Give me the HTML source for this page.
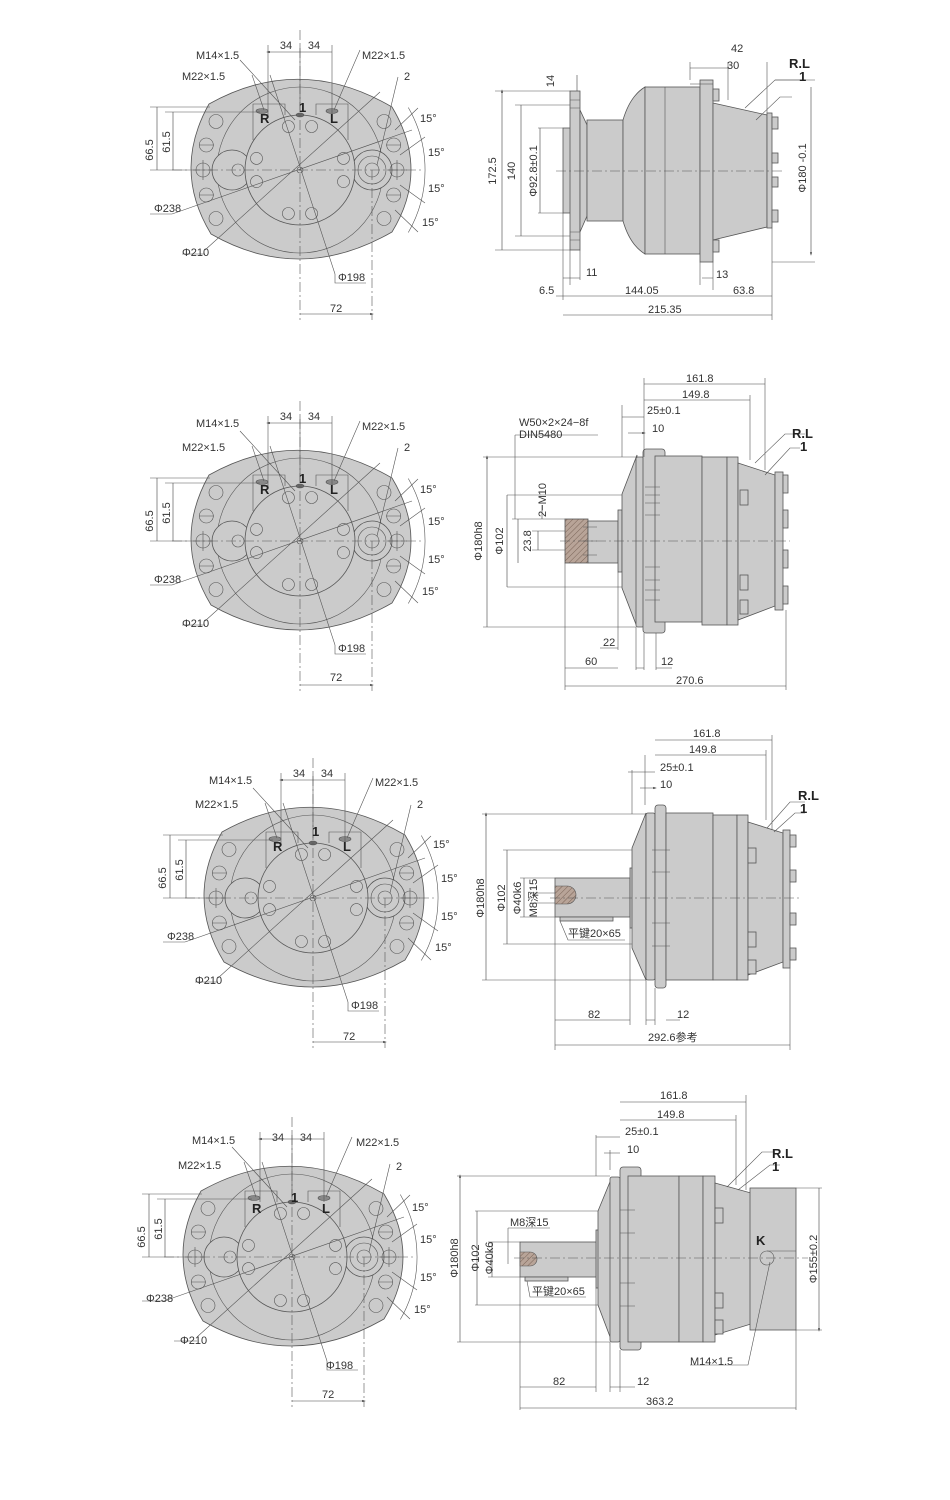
<!DOCTYPE html>
<html><head><meta charset="utf-8"><style>
html,body{margin:0;padding:0;background:#fff}
svg{display:block}
text{font-family:"Liberation Sans","Noto Sans CJK SC",sans-serif;font-size:11px;fill:#333}
.b{font-weight:bold;font-size:13px;fill:#222}
.g{fill:#cbcbcb;stroke:#555;stroke-width:0.8}
.l{stroke:#555;stroke-width:0.6;fill:none}
.c{stroke:#555;stroke-width:0.6;fill:none;stroke-dasharray:10 3 2 3}
.d{stroke:#444;stroke-width:0.6;fill:none;marker-start:url(#a);marker-end:url(#a)}
</style></head><body>
<svg width="950" height="1500" viewBox="0 0 950 1500" xmlns="http://www.w3.org/2000/svg">
<defs>
<marker id="a" viewBox="0 0 10 10" refX="5" refY="5" markerWidth="6" markerHeight="6" orient="auto-start-reverse"><path d="M0,2 L10,5 L0,8 Z" fill="#444"/></marker>
<pattern id="h" width="4" height="4" patternUnits="userSpaceOnUse" patternTransform="rotate(45)"><rect width="4" height="4" fill="#b8a498"/><line x1="0" y1="0" x2="0" y2="4" stroke="#7a6458" stroke-width="1"/></pattern>
<g id="fv">
<path class="g" d="M-91,-66 Q0,-117 92,-63 Q130,0 92,62 Q0,115 -89,64 Q-128,0 -91,-66Z"/>
<circle class="l" r="83"/>
<circle class="g" cx="72" cy="0" r="20"/><circle class="g" cx="-68" cy="0" r="20"/>
<circle class="g" r="55"/>
<circle class="l" cx="72" cy="0" r="14"/><circle class="l" cx="72" cy="0" r="7"/><circle class="l" cx="-62" cy="0" r="6"/>
<g class="l">
<circle cx="11.6" cy="-43.5" r="6"/><circle cx="-11.6" cy="-43.5" r="6"/><circle cx="11.6" cy="43.5" r="6"/><circle cx="-11.6" cy="43.5" r="6"/>
<circle cx="43.5" cy="11.6" r="6"/><circle cx="43.5" cy="-11.6" r="6"/><circle cx="-43.5" cy="11.6" r="6"/><circle cx="-43.5" cy="-11.6" r="6"/>
<circle cx="97" cy="0" r="7"/><circle cx="93.7" cy="25" r="7"/><circle cx="93.7" cy="-25" r="7"/><circle cx="84" cy="48.5" r="7"/><circle cx="84" cy="-48.5" r="7"/>
<circle cx="-97" cy="0" r="7"/><circle cx="-93.7" cy="25" r="7"/><circle cx="-93.7" cy="-25" r="7"/><circle cx="-84" cy="48.5" r="7"/><circle cx="-84" cy="-48.5" r="7"/>
<path d="M87,0 H107 M97,-10 V10 M-87,0 H-107 M-97,-10 V10 M86,25 H101 M86,-25 H101 M-86,25 H-101 M-86,-25 H-101"/>
<path d="M-47,-30 V-66 H-15 V-55 M16,-55 V-66 H48 V-30"/>
<ellipse cx="-38" cy="-59" rx="6" ry="2.5" fill="#888"/><ellipse cx="32" cy="-59" rx="6" ry="2.5" fill="#888"/><ellipse cx="0" cy="-55" rx="4" ry="2" fill="#666"/>
<circle r="3"/>
</g>
<path class="c" d="M-128,0 H122 M0,-140 V150 M72,0 V150"/>
<g class="l">
<path d="M-32,-125 V-55 M32,-125 V-55 M0,-125 V-60"/>
<path d="M-150,-63 H-90 M-135,-58 H-40 M-150,0 H-110"/>
<path d="M-128,44 L112,-40 M-95,80 L80,-78 M35,104 L-30,-95 M-60,-110 L-5,-50 M-48,-95 L-36,-60 M60,-120 L34,-60 M98,-93 L77,-5"/>
<path d="M-150,44 H-128 M-118,84 H-95 M35,104 V113 H66"/>
<path d="M108.3,-62.5 A125,125 0 0 1 108.3,62.5"/>
<path d="M100,-15 L125,-33 M100,15 L125,33 M95,-40 L118,-62 M95,40 L118,62"/>
</g>
<path class="d" d="M-32,-118 H32 M-143,-63 V0 M-127,-58 V0 M0,144 H72"/>
</g>
</defs>

<!-- FRONT VIEWS -->
<g transform="translate(300,170)"><use href="#fv"/>
<text x="-14" y="-121" text-anchor="middle">34</text><text x="14" y="-121" text-anchor="middle">34</text>
<text x="-104" y="-111">M14×1.5</text><text x="-118" y="-90">M22×1.5</text><text x="62" y="-111">M22×1.5</text><text x="104" y="-90">2</text>
<text class="b" x="-40" y="-47">R</text><text class="b" x="30" y="-47">L</text><text class="b" x="-1" y="-58">1</text>
<text transform="translate(-147,-20) rotate(-90)" text-anchor="middle">66.5</text><text transform="translate(-130,-28) rotate(-90)" text-anchor="middle">61.5</text>
<text x="-146" y="42">Φ238</text><text x="-118" y="86">Φ210</text><text x="38" y="111">Φ198</text><text x="30" y="142">72</text>
<text x="120" y="-48">15°</text><text x="128" y="-14">15°</text><text x="128" y="22">15°</text><text x="122" y="56">15°</text>
</g>
<g transform="translate(300,541)"><use href="#fv"/>
<text x="-14" y="-121" text-anchor="middle">34</text><text x="14" y="-121" text-anchor="middle">34</text>
<text x="-104" y="-114">M14×1.5</text><text x="-118" y="-90">M22×1.5</text><text x="62" y="-111">M22×1.5</text><text x="104" y="-90">2</text>
<text class="b" x="-40" y="-47">R</text><text class="b" x="30" y="-47">L</text><text class="b" x="-1" y="-58">1</text>
<text transform="translate(-147,-20) rotate(-90)" text-anchor="middle">66.5</text><text transform="translate(-130,-28) rotate(-90)" text-anchor="middle">61.5</text>
<text x="-146" y="42">Φ238</text><text x="-118" y="86">Φ210</text><text x="38" y="111">Φ198</text><text x="30" y="140">72</text>
<text x="120" y="-48">15°</text><text x="128" y="-16">15°</text><text x="128" y="22">15°</text><text x="122" y="54">15°</text>
</g>
<g transform="translate(313,898)"><use href="#fv"/>
<text x="-14" y="-121" text-anchor="middle">34</text><text x="14" y="-121" text-anchor="middle">34</text>
<text x="-104" y="-114">M14×1.5</text><text x="-118" y="-90">M22×1.5</text><text x="62" y="-112">M22×1.5</text><text x="104" y="-90">2</text>
<text class="b" x="-40" y="-47">R</text><text class="b" x="30" y="-47">L</text><text class="b" x="-1" y="-62">1</text>
<text transform="translate(-147,-20) rotate(-90)" text-anchor="middle">66.5</text><text transform="translate(-130,-28) rotate(-90)" text-anchor="middle">61.5</text>
<text x="-146" y="42">Φ238</text><text x="-118" y="86">Φ210</text><text x="38" y="111">Φ198</text><text x="30" y="142">72</text>
<text x="120" y="-50">15°</text><text x="128" y="-16">15°</text><text x="128" y="22">15°</text><text x="122" y="53">15°</text>
</g>
<g transform="translate(292,1257)"><use href="#fv"/>
<text x="-14" y="-116" text-anchor="middle">34</text><text x="14" y="-116" text-anchor="middle">34</text>
<text x="-100" y="-113">M14×1.5</text><text x="-114" y="-88">M22×1.5</text><text x="64" y="-111">M22×1.5</text><text x="104" y="-87">2</text>
<text class="b" x="-40" y="-44">R</text><text class="b" x="30" y="-44">L</text><text class="b" x="-1" y="-55">1</text>
<text transform="translate(-147,-20) rotate(-90)" text-anchor="middle">66.5</text><text transform="translate(-130,-28) rotate(-90)" text-anchor="middle">61.5</text>
<text x="-146" y="45">Φ238</text><text x="-112" y="87">Φ210</text><text x="34" y="112">Φ198</text><text x="30" y="141">72</text>
<text x="120" y="-46">15°</text><text x="128" y="-14">15°</text><text x="128" y="24">15°</text><text x="122" y="56">15°</text>
</g>

<!-- SIDE VIEW 1 -->
<g>
<rect class="g" x="563" y="128" width="8" height="85"/>
<rect class="g" x="570" y="91" width="10" height="159"/>
<path class="g" d="M580,110 L587,125 V216 L580,232Z"/>
<rect class="g" x="587" y="120" width="36" height="101"/>
<path class="g" d="M623,120 Q630,96 645,87 V254 Q630,245 623,221Z"/>
<rect class="g" x="645" y="87" width="55" height="167"/>
<path class="l" d="M665,87 V254"/>
<rect class="g" x="700" y="80" width="13" height="182"/>
<path class="g" d="M713,103 L767,115 V227 L713,240Z"/>
<rect class="g" x="767" y="113" width="5" height="115"/>
<g class="g"><rect x="713" y="89" width="6" height="12"/><rect x="713" y="240" width="6" height="12"/><rect x="772" y="117" width="6" height="12"/><rect x="772" y="153" width="6" height="10"/><rect x="772" y="177" width="6" height="10"/><rect x="772" y="210" width="6" height="12"/></g>
<path class="l" d="M570,100 H580 M570,108 H580 M570,232 H580 M570,240 H580"/>
<path class="c" d="M556,171 H785"/>
<g class="l"><path d="M495,91 H570 M515,105 H570 M538,128 H563 M538,213 H563 M515,236 H570 M495,250 H570"/>
<path d="M563,213 V300 M570,250 V285 M580,250 V280 M713,262 V290 M700,262 V285 M772,228 V320 M690,80 V62 M728,62 V100 M767,62 V113 M775,80 H815 M772,262 H815"/>
<path d="M745,108 L775,80 H805 M756,120 L780,97 H792"/></g>
<path class="d" d="M502,91 V250 M521,105 V236 M540,128 V213 M577,75 V91 M563,278 H580 M702,278 H713 M556,296 H563 M563,296 H713 M713,296 H772 M563,315 H772 M690,68 H728 M690,84 H713 M811,87 V254"/>
<text transform="translate(496,171) rotate(-90)" text-anchor="middle">172.5</text>
<text transform="translate(515,171) rotate(-90)" text-anchor="middle">140</text>
<text transform="translate(537,171) rotate(-90)" text-anchor="middle">Φ92.8±0.1</text>
<text transform="translate(554,81) rotate(-90)" text-anchor="middle">14</text>
<text transform="translate(806,168) rotate(-90)" text-anchor="middle">Φ180 -0.1</text>
<text x="586" y="276">11</text><text x="716" y="278">13</text><text x="539" y="294">6.5</text>
<text x="625" y="294">144.05</text><text x="733" y="294">63.8</text><text x="648" y="313">215.35</text>
<text x="731" y="52">42</text><text x="727" y="69">30</text>
<text class="b" x="789" y="68">R.L</text><text class="b" x="799" y="81">1</text>
</g>

<!-- SIDE VIEW 2 -->
<g>
<rect x="565" y="519" width="23" height="44" fill="url(#h)" stroke="#555" stroke-width="0.8"/>
<rect class="g" x="588" y="521" width="30" height="42"/>
<rect class="g" x="618" y="510" width="4" height="62"/>
<path class="g" d="M622,494 L637,455 V627 L622,588Z"/>
<rect class="g" x="636" y="457" width="8" height="170" rx="2"/>
<rect class="g" x="643" y="449" width="22" height="184" rx="3"/>
<rect class="g" x="655" y="456" width="47" height="166"/>
<rect class="g" x="702" y="457" width="25" height="168"/>
<rect class="g" x="727" y="457" width="11" height="168"/>
<path class="g" d="M738,463 L775,475 V606 L738,620Z"/>
<rect class="g" x="775" y="472" width="8" height="138"/>
<g class="g"><rect x="740" y="490" width="8" height="15"/><rect x="740" y="575" width="8" height="15"/><rect x="740" y="600" width="8" height="14"/><rect x="783" y="475" width="5" height="18"/><rect x="783" y="510" width="5" height="18"/><rect x="783" y="550" width="5" height="18"/><rect x="783" y="586" width="5" height="18"/></g>
<path class="l" d="M645,487 H660 M645,495 H660 M645,503 H660 M645,515 H660 M645,567 H660 M645,580 H660 M645,590 H660 M645,600 H660 M583,527 H597 M583,541 H597 M583,555 H597"/>
<path class="c" d="M560,541 H790"/>
<g class="l"><path d="M483,457 H636 M507,495 H622 M512,519 H565 M532,531 H565 M532,550 H565 M483,627 H636 M507,587 H622 M515,435 H598 M515,435 V519"/>
<path d="M565,563 V690 M618,572 V650 M636,627 V670 M644,633 V670 M656,633 V670 M786,610 V690 M622,405 V457 M644,378 V457 M750,395 V460 M765,378 V470 M755,463 L785,434 H805 M765,475 L790,448 H800"/></g>
<path class="d" d="M487,457 V627 M507,495 V587 M518,519 V563 M538,531 V550 M542,505 V519 M600,648 H618 M565,668 H618 M636,668 H644 M656,668 H672 M565,686 H786 M644,384 H765 M644,400 H750 M622,417 H644 M628,433 H644"/>
<text x="519" y="426">W50×2×24−8f</text><text x="519" y="438">DIN5480</text>
<text transform="translate(482,541) rotate(-90)" text-anchor="middle">Φ180h8</text>
<text transform="translate(503,541) rotate(-90)" text-anchor="middle">Φ102</text>
<text transform="translate(531,541) rotate(-90)" text-anchor="middle">23.8</text>
<text transform="translate(546,500) rotate(-90)" text-anchor="middle">2−M10</text>
<text x="603" y="646">22</text><text x="585" y="665">60</text><text x="661" y="665">12</text><text x="676" y="684">270.6</text>
<text x="686" y="382">161.8</text><text x="682" y="398">149.8</text><text x="647" y="414">25±0.1</text><text x="652" y="432">10</text>
<text class="b" x="792" y="438">R.L</text><text class="b" x="800" y="451">1</text>
</g>

<!-- SIDE VIEW 3 -->
<g>
<rect class="g" x="555" y="878" width="75" height="39"/>
<rect class="g" x="560" y="917" width="53" height="4"/>
<path d="M555,886 H567 A9,9 0 0 1 567,904 H555Z" fill="url(#h)" stroke="#555" stroke-width="0.6"/>
<rect class="g" x="630" y="868" width="3" height="60"/>
<path class="g" d="M632,848 L646,813 V980 L632,948Z"/>
<rect class="g" x="646" y="813" width="9" height="167" rx="2"/>
<rect class="g" x="655" y="805" width="11" height="183" rx="3"/>
<rect class="g" x="666" y="813" width="47" height="167"/>
<rect class="g" x="713" y="815" width="24" height="165"/>
<rect class="g" x="737" y="815" width="11" height="165"/>
<path class="g" d="M748,822 L783,833 V962 L748,975Z"/>
<rect class="g" x="783" y="830" width="7" height="138"/>
<g class="g"><rect x="748" y="848" width="8" height="15"/><rect x="748" y="932" width="8" height="15"/><rect x="748" y="960" width="8" height="14"/><rect x="790" y="835" width="6" height="12"/><rect x="790" y="870" width="6" height="12"/><rect x="790" y="913" width="6" height="12"/><rect x="790" y="948" width="6" height="12"/></g>
<path class="l" d="M652,850 H670 M652,872 H670 M652,923 H670 M652,946 H670"/>
<path class="c" d="M550,898 H800"/>
<g class="l"><path d="M482,814 H646 M503,850 H632 M520,878 H555 M520,917 H555 M482,980 H646 M503,944 H632 M530,893 H555 M530,903 H555 M560,921 L568,940 H625"/>
<path d="M555,917 V1050 M630,928 V1025 M646,980 V1025 M655,988 V1025 M790,968 V1050 M632,770 V814 M645,755 V805 M766,750 V820 M772,735 V830 M767,828 L790,802 H805 M774,832 L795,813 H805"/></g>
<path class="d" d="M486,814 V980 M507,850 V944 M524,878 V917 M555,1020 H630 M646,1020 H655 M666,1020 H680 M555,1045 H790 M655,740 H772 M655,755 H766 M628,772 H655 M640,788 H655"/>
<text transform="translate(484,898) rotate(-90)" text-anchor="middle">Φ180h8</text>
<text transform="translate(505,898) rotate(-90)" text-anchor="middle">Φ102</text>
<text transform="translate(521,898) rotate(-90)" text-anchor="middle">Φ40k6</text>
<text transform="translate(537,898) rotate(-90)" text-anchor="middle">M8深15</text>
<text x="568" y="937">平键20×65</text>
<text x="588" y="1018">82</text><text x="677" y="1018">12</text><text x="648" y="1041">292.6参考</text>
<text x="693" y="737">161.8</text><text x="689" y="753">149.8</text><text x="660" y="771">25±0.1</text><text x="660" y="788">10</text>
<text class="b" x="798" y="800">R.L</text><text class="b" x="800" y="813">1</text>
</g>

<!-- SIDE VIEW 4 -->
<g>
<rect class="g" x="520" y="1242" width="77" height="35"/>
<rect class="g" x="525" y="1277" width="43" height="4"/>
<path d="M520,1252 H530 A7,7 0 0 1 530,1266 H520Z" fill="url(#h)" stroke="#555" stroke-width="0.6"/>
<rect class="g" x="596" y="1230" width="3" height="58"/>
<path class="g" d="M598,1211 L612,1177 V1342 L598,1305Z"/>
<rect class="g" x="610" y="1177" width="10" height="165" rx="2"/>
<rect class="g" x="620" y="1167" width="21" height="183" rx="3"/>
<rect class="g" x="628" y="1176" width="51" height="166"/>
<rect class="g" x="679" y="1176" width="24" height="166"/>
<rect class="g" x="703" y="1176" width="12" height="166"/>
<path class="g" d="M715,1183 L751,1193 V1324 L715,1335Z"/>
<rect class="g" x="750" y="1188" width="46" height="142"/>
<circle class="l" cx="767" cy="1258" r="7"/>
<g class="g"><rect x="715" y="1208" width="8" height="15"/><rect x="715" y="1293" width="8" height="15"/><rect x="715" y="1320" width="8" height="14"/></g>
<path class="l" d="M620,1210 H635 M620,1233 H635 M620,1283 H635 M620,1306 H635 M767,1251 H796"/>
<path class="c" d="M514,1258 H808"/>
<g class="l"><path d="M457,1176 H610 M475,1211 H598 M488,1242 H520 M488,1277 H520 M457,1342 H610 M475,1305 H598 M508,1228 H550 M508,1228 V1264 M527,1281 L530,1297 H586 M796,1188 H822 M796,1330 H822"/>
<path d="M520,1277 V1410 M596,1288 V1392 M610,1342 V1392 M620,1350 V1392 M796,1330 V1410 M596,1135 V1176 M610,1150 V1170 M736,1115 V1185 M746,1095 V1190 M727,1187 L762,1152 H775 M738,1190 L770,1165 H780 M770,1262 L748,1365 H690"/></g>
<path class="d" d="M460,1176 V1342 M477,1211 V1305 M492,1242 V1277 M520,1387 H596 M610,1387 H620 M620,1387 H635 M520,1408 H796 M620,1102 H746 M620,1120 H736 M596,1137 H620 M604,1153 H620 M819,1188 V1330"/>
<text transform="translate(458,1258) rotate(-90)" text-anchor="middle">Φ180h8</text>
<text transform="translate(479,1258) rotate(-90)" text-anchor="middle">Φ102</text>
<text transform="translate(493,1258) rotate(-90)" text-anchor="middle">Φ40k6</text>
<text x="510" y="1226">M8深15</text><text x="532" y="1295">平键20×65</text>
<text x="553" y="1385">82</text><text x="637" y="1385">12</text><text x="646" y="1405">363.2</text>
<text x="660" y="1099">161.8</text><text x="657" y="1118">149.8</text><text x="625" y="1135">25±0.1</text><text x="627" y="1153">10</text>
<text class="b" x="772" y="1158">R.L</text><text class="b" x="772" y="1171">1</text><text class="b" x="756" y="1245">K</text>
<text x="690" y="1365">M14×1.5</text>
<text transform="translate(817,1259) rotate(-90)" text-anchor="middle">Φ155±0.2</text>
</g>
</svg>
</body></html>
